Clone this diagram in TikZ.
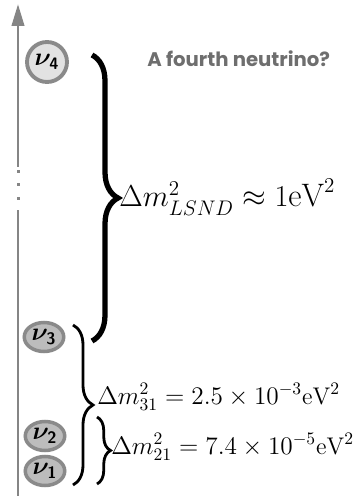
\documentclass[tikz,border=0pt]{standalone}
\usepackage{amsmath}
\usepackage{amssymb}
\usepackage{bm}
\usepackage{fontspec}
\newfontfamily\popfont{Poppins}
\usetikzlibrary{arrows.meta, positioning, calc, shapes.geometric, decorations.pathreplacing}
\definecolor{axisgray}{HTML}{858585}
\definecolor{ringgray}{HTML}{8A8A8A}
\definecolor{paleball}{HTML}{E2E2E2}
\definecolor{darkball}{HTML}{BCBCBC}
\definecolor{notegray}{HTML}{6E6E6E}
\tikzset{
    levels/.style={x=0.02cm, y=-0.02cm, >={Triangle[width=7pt, length=12.5pt]}},
    axisline/.style={draw=axisgray, line width=1.7pt},
    heavy/.style={circle, draw=ringgray, line width=2.2pt, fill=paleball, minimum size=0.8cm, inner sep=0pt, font=\fontsize{13.5}{15}\selectfont},
    light/.style={ellipse, draw=ringgray, line width=2pt, fill=darkball, minimum width=0.79cm, minimum height=0.58cm, inner sep=0pt, font=\fontsize{13.5}{15}\selectfont},
    % braces: amplitude is the distance from the ends to the tip
    bigbrace/.style={decorate, decoration={brace, amplitude=0.52cm}, line width=3pt},
    midbrace/.style={decorate, decoration={brace, amplitude=0.40cm}, line width=1.6pt},
    smallbrace/.style={decorate, decoration={brace, amplitude=0.27cm}, line width=1.6pt},
    split/.style={anchor=base west, inner sep=0pt},
}

\begin{document}
\begin{tikzpicture}[levels]
    \useasboundingbox (0,0) rectangle (359,496);

    % mass axis, broken by dots
    \coordinate (base)   at (18,496);
    \coordinate (gaplow) at (18,210);
    \coordinate (gapup)  at (18,167);
    \coordinate (top)    at (18,4);
    \draw[axisline] (base) -- (gaplow);
    \draw[axisline, ->] (gapup) -- (top);
    \foreach \y in {172,185,199}
        \fill[axisgray] (16.5,\y-1.5) rectangle ++(3,3);

    \node[heavy] (nu4) at (47,62)  {$\boldsymbol{\nu}_{\textsf{\bfseries 4}}$};
    \node[light] (nu3) at (44,337) {$\boldsymbol{\nu}_{\textsf{\bfseries 3}}$};
    \node[light] (nu2) at (45,436) {$\boldsymbol{\nu}_{\textsf{\bfseries 2}}$};
    \node[light] (nu1) at (45,471) {$\boldsymbol{\nu}_{\textsf{\bfseries 1}}$};

    \coordinate (lsndtop) at (92,55);
    \coordinate (lsndbot) at (92,341);
    \coordinate (atmtop)  at (73,325);
    \coordinate (atmbot)  at (73,485);
    \coordinate (soltop)  at (97,417);
    \coordinate (solbot)  at (97,484);

    \draw[bigbrace]   (lsndtop) -- (lsndbot);
    \draw[midbrace]   (atmtop) -- (atmbot);
    \draw[smallbrace] (soltop) -- (solbot);

    \node[split, text=notegray, font=\popfont\bfseries\fontsize{11.2}{13}\selectfont] (fourth) at (147,67) {A fourth neutrino?};
    \node[split, font=\fontsize{18.5}{21}\selectfont] (lsnd) at (119,207) {$\Delta m^2_{LSND} \approx 1\mathrm{eV}^2$};
    \node[split, font=\fontsize{13.7}{16}\selectfont] (dm31) at (97,404) {$\Delta m^2_{31} = 2.5 \times 10^{-3}\mathrm{eV}^2$};
    \node[split, font=\fontsize{13.7}{16}\selectfont] (dm21) at (111,454) {$\Delta m^2_{21} = 7.4 \times 10^{-5}\mathrm{eV}^2$};
\end{tikzpicture}
\end{document}
